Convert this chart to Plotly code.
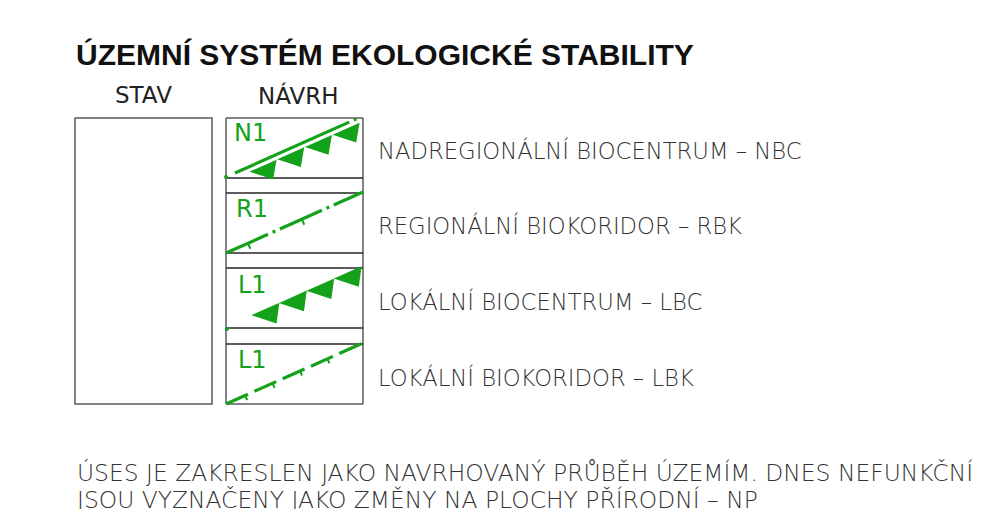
import numpy as np
import plotly.graph_objects as go

# ---- content ----
title = "ÚZEMNÍ SYSTÉM EKOLOGICKÉ STABILITY"
headers = ["STAV", "NÁVRH"]
codes = ["N1", "R1", "L1", "L1"]
labels = [
    "NADREGIONÁLNÍ BIOCENTRUM – NBC",
    "REGIONÁLNÍ BIOKORIDOR – RBK",
    "LOKÁLNÍ BIOCENTRUM – LBC",
    "LOKÁLNÍ BIOKORIDOR – LBK",
]
kinds = ["nbc", "rbk", "lbc", "lbk"]
notes = [
    "ÚSES JE ZAKRESLEN JAKO NAVRHOVANÝ PRŮBĚH ÚZEMÍM. DNES NEFUNKČNÍ",
    "JSOU VYZNAČENY JAKO ZMĚNY NA PLOCHY PŘÍRODNÍ – NP",
]

# ---- layout / style ----
W, H = 988, 509
PAGE_OFF = 8  # default body margin of the html page
GREEN = "#14a21b"
INK = "#262626"
BORDER = "#5a5a5a"
FONT = "DejaVu Sans"
STAV_X = (75, 212)
NAVRH_X = (226, 363)
BOX_Y = (118, 404)
CELL_TOPS = [118, 193, 268, 344]
CELL_H = 60
LABEL_X = 376
LABEL_Y = [150, 225, 301, 377]
CODE_POS = [(232, 133), (234, 209), (236, 285), (236, 360)]

u = np.array([137.0, -61.0]); u /= np.linalg.norm(u)
n = np.array([-u[1], u[0]])

shapes = []


def seg(p0, p1, color=INK, width=1.5, dash=None):
    d = dict(color=color, width=width)
    if dash:
        d["dash"] = dash
    shapes.append(dict(type="line", xref="x", yref="y", x0=p0[0], y0=p0[1],
                       x1=p1[0], y1=p1[1], line=d, layer="above"))


def tri(a, base, along, depth):
    a = np.asarray(a, float)
    b = a + base * u
    c = a + along * u + depth * n
    path = f"M{a[0]:.2f},{a[1]:.2f} L{b[0]:.2f},{b[1]:.2f} L{c[0]:.2f},{c[1]:.2f} Z"
    shapes.append(dict(type="path", xref="x", yref="y", path=path,
                       fillcolor=GREEN, line=dict(color=GREEN, width=2.5), layer="above"))


def dot(p, r=2.0):
    shapes.append(dict(type="circle", xref="x", yref="y", x0=p[0]-r, y0=p[1]-r,
                       x1=p[0]+r, y1=p[1]+r, fillcolor=GREEN,
                       line=dict(color=GREEN, width=0), layer="above"))


# STAV box
shapes.append(dict(type="rect", xref="x", yref="y", x0=STAV_X[0], x1=STAV_X[1],
                   y0=BOX_Y[0], y1=BOX_Y[1], line=dict(color=BORDER, width=1.5)))
# NÁVRH column
seg((NAVRH_X[0], BOX_Y[0]), (NAVRH_X[0], BOX_Y[1]), BORDER)
seg((NAVRH_X[1], BOX_Y[0]), (NAVRH_X[1], BOX_Y[1]), BORDER)
for i, top in enumerate(CELL_TOPS):
    seg((NAVRH_X[0], top), (NAVRH_X[1], top), INK if i else BORDER)
    bot = top + CELL_H
    seg((NAVRH_X[0], bot), (NAVRH_X[1], bot), INK if i < 3 else BORDER)

# symbols
x0 = NAVRH_X[0]
for kind, top in zip(kinds, CELL_TOPS):
    if kind == "nbc":
        p0 = np.array([x0 + 9, top + 55.0])
        seg(p0, p0 + 125 * u, GREEN, 3.2)
        seg(p0 + 130 * u, p0 + 133 * u, GREEN, 3.2)
        a0 = np.array([x0 + 27.0, top + 53.5])
        for k in range(4):
            tri(a0 + k * 30.3 * u, 24, 15, 13.5)
        dot((x0, top + CELL_H - 1))
    elif kind == "lbc":
        a0 = np.array([x0 + 29.0, top + 47.0])
        for k in range(4):
            tri(a0 + k * 30.0 * u, 25, 16, 14.5)
        dot((x0 + 1, top + CELL_H + 1))
    elif kind == "rbk":
        p0 = np.array([x0, top + CELL_H])
        seg(p0, p0 + 150 * u, GREEN, 3.2, "46px,5px,3px,5px")
        for d in (24, 83):
            seg(p0 + d * u, p0 + d * u + 6 * n, GREEN, 2)
    elif kind == "lbk":
        p0 = np.array([x0, top + CELL_H])
        seg(p0, p0 + 150 * u, GREEN, 3.2, "24px,7px")
        for d in (21, 51, 81, 111):
            seg(p0 + d * u, p0 + d * u + 5 * n, GREEN, 2)

fig = go.Figure()
fig.add_trace(go.Scatter(x=[PAGE_OFF, W], y=[PAGE_OFF, H], mode="markers",
                         marker=dict(opacity=0), hoverinfo="skip", showlegend=False))

ann = []
ann.append(dict(text=title, x=STAV_X[0] - 1, y=54, xanchor="left", yanchor="middle",
                font=dict(family="Liberation Sans", size=30, color="#111", weight="bold")))
ann.append(dict(text=headers[0], x=(STAV_X[0] + STAV_X[1]) / 2, y=95, xanchor="center",
                yanchor="middle", font=dict(family=FONT, size=23, color="#222")))
ann.append(dict(text=headers[1], x=298, y=95, xanchor="center",
                yanchor="middle", font=dict(family=FONT, size=23, color="#222")))
for c, (cx, cy) in zip(codes, CODE_POS):
    ann.append(dict(text=c, x=cx, y=cy, xanchor="left", yanchor="middle",
                    font=dict(family=FONT, size=24, color=GREEN)))
for lab, ly in zip(labels, LABEL_Y):
    ann.append(dict(text=lab, x=LABEL_X, y=ly, xanchor="left", yanchor="middle",
                    font=dict(family=FONT, size=22.7, color="#333", weight=300)))
for i, line_txt in enumerate(notes):
    ann.append(dict(text=line_txt, x=STAV_X[0], y=473 + 27 * i, xanchor="left",
                    yanchor="middle", font=dict(family=FONT, size=23.4, color="#333", weight=300)))
for a in ann:
    a.update(xref="x", yref="y", showarrow=False)

fig.update_layout(
    width=W - PAGE_OFF, height=H - PAGE_OFF, margin=dict(l=0, r=0, t=0, b=0),
    paper_bgcolor="white", plot_bgcolor="white",
    xaxis=dict(range=[PAGE_OFF, W], visible=False, fixedrange=True),
    yaxis=dict(range=[H, PAGE_OFF], visible=False, fixedrange=True),
    shapes=shapes, annotations=ann, showlegend=False,
)
fig.write_html("out.html", config={"displayModeBar": False})
